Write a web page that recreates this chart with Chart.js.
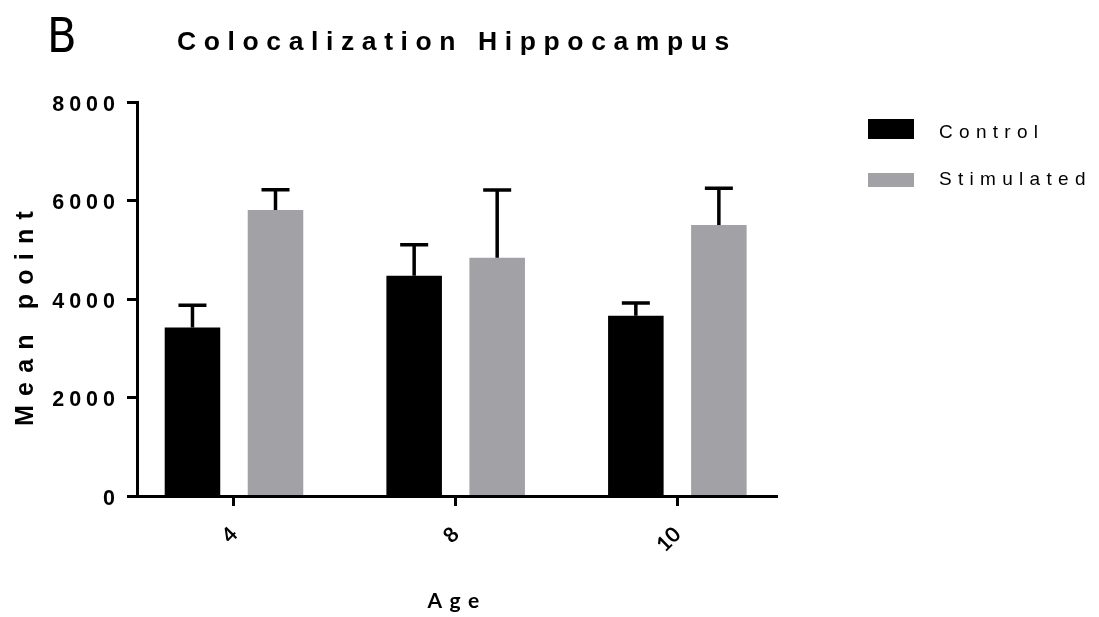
<!DOCTYPE html>
<html>
<head>
<meta charset="utf-8">
<script src="https://cdn.jsdelivr.net/npm/chart.js@4.4.1/dist/chart.umd.min.js"></script>
<style>
  html, body { margin: 0; padding: 0; background: #fff; }
  #chart { display: block; }
</style>
</head>
<body>
<canvas id="chart" width="1099" height="617"></canvas>
<script>
// values: mean with an upward-only error bar
const ages = ['4', '8', '10'];
const seriesNames = ['Control', 'Stimulated'];
const controlMean = [3420, 4470, 3660];
const controlErr = [455, 630, 260];
const stimulatedMean = [5805, 4840, 5505];
const stimulatedErr = [415, 1375, 745];
const yMax = 8000;
const yStep = 2000;

const colors = ['#000000', '#a2a1a6'];
const errors = [controlErr, stimulatedErr];

// Prism spreads its letters out; canvas letterSpacing does the same
function withSpacing(obj, method, spacing) {
    const orig = obj[method];
    obj[method] = function () {
        const ctx = this.ctx;
        const prev = ctx.letterSpacing;
        ctx.letterSpacing = spacing;
        const res = orig.apply(this, arguments);
        ctx.letterSpacing = prev;
        return res;
    };
}

// the groups sit ~97px in from each end of the x axis, not half a category
const xStart = -0.4375;
const xRange = 2.887;
class PrismCategoryScale extends Chart.CategoryScale {
    configure() {
        super.configure();
        this._startValue = xStart;
        this._valueRange = xRange;
    }
}
PrismCategoryScale.id = 'prismCategory';
PrismCategoryScale.defaults = Chart.CategoryScale.defaults;
Chart.register(PrismCategoryScale);

const errorBars = {
    id: 'errorBars',
    afterDatasetsDraw(chart) {
        const ctx = chart.ctx;
        const yScale = chart.scales.y;
        ctx.save();
        ctx.strokeStyle = '#000';
        ctx.lineWidth = 3.5;
        chart.data.datasets.forEach((ds, i) => {
            const meta = chart.getDatasetMeta(i);
            meta.data.forEach((bar, j) => {
                const top = yScale.getPixelForValue(ds.data[j] + errors[i][j]);
                ctx.beginPath();
                ctx.moveTo(bar.x, bar.y);
                ctx.lineTo(bar.x, top);
                ctx.moveTo(bar.x - 14, top);
                ctx.lineTo(bar.x + 14, top);
                ctx.stroke();
            });
        });
        ctx.restore();
    }
};

const legendBoxes = [{ top: 119, h: 20, base: 138 }, { top: 173, h: 14, base: 185 }];

const extras = {
    id: 'extras',
    beforeDraw(chart) {
        if (chart.$spaced) return;
        chart.$spaced = true;
        withSpacing(chart.titleBlock, 'draw', '7.6px');
        withSpacing(chart.scales.y, 'drawLabels', '5px');
        withSpacing(chart.scales.x, 'drawTitle', '7.5px');
    },
    afterDraw(chart) {
        const ctx = chart.ctx;
        ctx.save();
        ctx.fillStyle = '#000';
        ctx.textAlign = 'left';
        ctx.textBaseline = 'alphabetic';
        // panel letter
        ctx.font = '48px "Liberation Sans Narrow", "DejaVu Sans Condensed", sans-serif';
        ctx.fillText('B', 47, 52);

        // legend
        ctx.font = '19px "Liberation Sans", Arial, sans-serif';
        ctx.letterSpacing = '6.3px';
        chart.data.datasets.forEach((ds, i) => {
            const b = legendBoxes[i];
            ctx.fillStyle = ds.backgroundColor;
            ctx.fillRect(868, b.top, 46, b.h);
            ctx.fillStyle = '#000';
            ctx.fillText(ds.label, 939, b.base);
        });

        // y axis title, Prism put it a little below the middle
        ctx.font = 'bold 25px "Liberation Sans", Arial, sans-serif';
        ctx.letterSpacing = '9.2px';
        ctx.translate(33, 426);
        ctx.rotate(-Math.PI / 2);
        ctx.fillText('Mean point', 0, 0);
        ctx.restore();
    }
};

Chart.defaults.font.family = '"Liberation Sans", Arial, sans-serif';
Chart.defaults.color = '#000';

new Chart(document.getElementById('chart'), {
    type: 'bar',
    data: {
        labels: ages,
        datasets: [
            { label: seriesNames[0], data: controlMean, backgroundColor: colors[0] },
            { label: seriesNames[1], data: stimulatedMean, backgroundColor: colors[1] }
        ]
    },
    options: {
        responsive: false,
        animation: false,
        devicePixelRatio: 1,
        layout: { padding: { left: 0, right: 322, top: 0, bottom: 0 } },
        datasets: { bar: { categoryPercentage: 0.749, barPercentage: 0.669, borderWidth: 0 } },
        plugins: {
            legend: { display: false },
            tooltip: { enabled: false },
            title: {
                display: true,
                fullSize: false,
                text: 'Colocalization Hippocampus',
                color: '#000',
                font: { size: 26.5, weight: 'bold', lineHeight: 1.2 },
                padding: { top: 27, bottom: 43.2 }
            }
        },
        scales: {
            x: {
                type: 'prismCategory',
                grid: { display: true, offset: false, drawOnChartArea: false, drawTicks: true, tickLength: 10, tickWidth: 3, tickColor: '#000' },
                border: { display: true, color: '#000', width: 3, z: 1 },
                ticks: {
                    color: '#000',
                    minRotation: 45,
                    maxRotation: 45,
                    padding: 16,
                    font: { family: 'Lato', size: 21, weight: 'bold' }
                },
                title: {
                    display: true,
                    text: 'Age',
                    color: '#000',
                    font: { family: 'Lato', size: 21, weight: 'bold', lineHeight: 1.2 },
                    padding: { top: 0, bottom: 3.4 }
                },
                afterFit(scale) { scale.height = 121; }
            },
            y: {
                min: 0,
                max: yMax,
                grid: { display: true, drawOnChartArea: false, drawTicks: true, tickLength: 10, tickWidth: 3, tickColor: '#000' },
                border: { display: true, color: '#000', width: 3, z: 1 },
                ticks: {
                    stepSize: yStep,
                    color: '#000',
                    padding: 7,
                    labelOffset: 3,
                    font: { size: 21.5, weight: 'bold' },
                    callback: value => String(value)
                },
                afterFit(scale) { scale.width = 137; }
            }
        }
    },
    plugins: [errorBars, extras]
});
</script>
</body>
</html>
